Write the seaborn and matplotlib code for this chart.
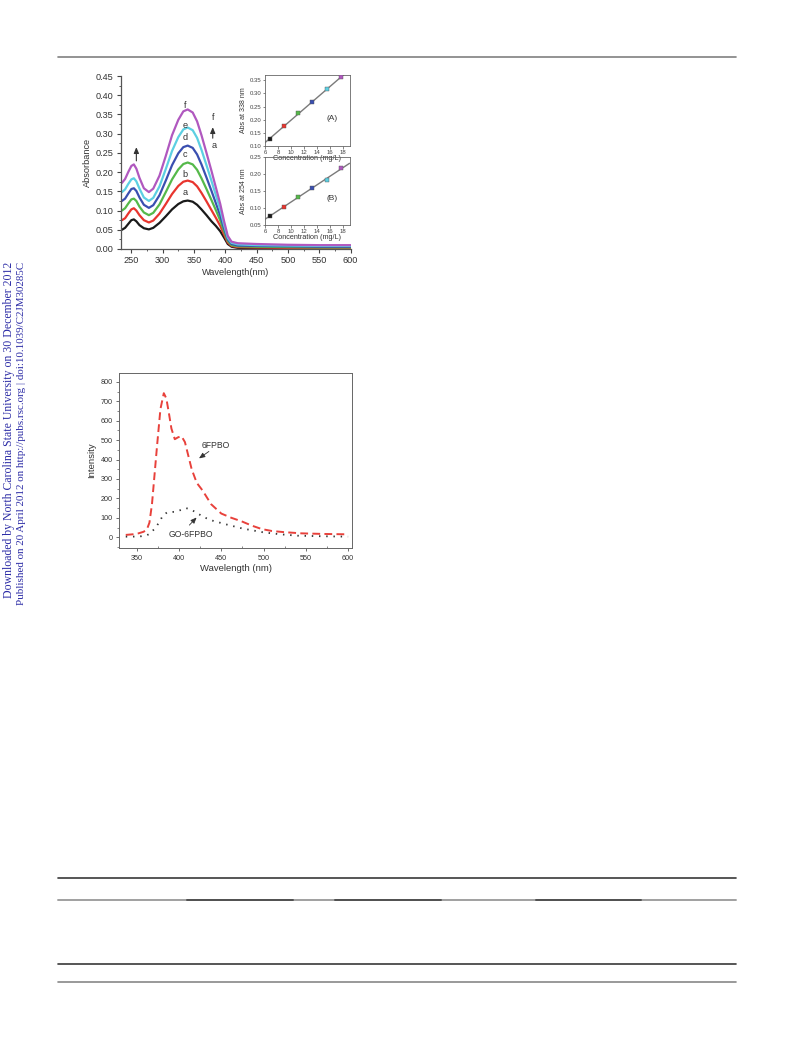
import numpy as np
import pandas as pd
import matplotlib
matplotlib.use("Agg")
import matplotlib.pyplot as plt
import seaborn as sns
from matplotlib.ticker import MultipleLocator

sns.set_style("ticks")
plt.rcParams['font.family'] = ['Liberation Sans', 'DejaVu Sans']

# ---------------- data: UV-vis absorbance spectra ----------------
wl = [235, 240, 245, 250, 254, 258, 263, 270, 278, 285, 295, 305, 315, 325, 333,
      340, 348, 355, 362, 370, 378, 385, 392, 398, 404, 410, 420, 450, 500, 550, 600]
abs_a = [0.050, 0.055, 0.065, 0.075, 0.077, 0.072, 0.062, 0.054, 0.051, 0.055, 0.068, 0.085, 0.103, 0.117, 0.124,
         0.126, 0.123, 0.115, 0.103, 0.088, 0.072, 0.060, 0.046, 0.030, 0.013, 0.006, 0.003, 0.002, 0.001, 0.001, 0.001]
abs_b = [0.075, 0.080, 0.092, 0.103, 0.106, 0.100, 0.088, 0.075, 0.069, 0.074, 0.092, 0.117, 0.143, 0.164, 0.175,
         0.178, 0.174, 0.163, 0.146, 0.124, 0.101, 0.081, 0.060, 0.038, 0.017, 0.008, 0.005, 0.004, 0.003, 0.003, 0.002]
abs_c = [0.100, 0.106, 0.118, 0.129, 0.131, 0.125, 0.110, 0.095, 0.088, 0.094, 0.116, 0.148, 0.181, 0.207, 0.221,
         0.225, 0.220, 0.206, 0.184, 0.156, 0.127, 0.101, 0.074, 0.046, 0.021, 0.010, 0.007, 0.006, 0.005, 0.004, 0.004]
abs_d = [0.125, 0.131, 0.144, 0.156, 0.158, 0.151, 0.134, 0.115, 0.107, 0.114, 0.140, 0.178, 0.218, 0.249, 0.265,
         0.269, 0.263, 0.246, 0.220, 0.186, 0.151, 0.119, 0.087, 0.054, 0.025, 0.013, 0.009, 0.008, 0.007, 0.006, 0.006]
abs_e = [0.148, 0.155, 0.169, 0.181, 0.184, 0.176, 0.157, 0.134, 0.125, 0.133, 0.163, 0.208, 0.255, 0.291, 0.311,
         0.316, 0.309, 0.289, 0.258, 0.218, 0.177, 0.140, 0.102, 0.063, 0.029, 0.016, 0.012, 0.010, 0.009, 0.008, 0.008]
abs_f = [0.172, 0.182, 0.200, 0.216, 0.220, 0.209, 0.185, 0.158, 0.148, 0.157, 0.191, 0.242, 0.296, 0.336, 0.358,
         0.363, 0.355, 0.332, 0.296, 0.250, 0.203, 0.160, 0.117, 0.073, 0.034, 0.019, 0.015, 0.013, 0.011, 0.010, 0.010]
curve_names = ['a', 'b', 'c', 'd', 'e', 'f']
curve_colors = ['#1a1a1a', '#e8352e', '#55b94a', '#3a4fb0', '#5ccfe2', '#b058bf']
label_y = [0.147, 0.194, 0.245, 0.291, 0.322, 0.373]

# insets: calibration
conc = [6.7, 8.9, 11.1, 13.3, 15.5, 17.7]
abs338 = [0.125, 0.177, 0.224, 0.268, 0.315, 0.362]
abs254 = [0.077, 0.104, 0.131, 0.158, 0.183, 0.219]

# ---------------- data: fluorescence ----------------
fl_wl1 = [337, 345, 352, 358, 362, 365, 368, 371, 374, 378, 382, 385, 388, 391, 395, 399, 403,
          407, 411, 415, 421, 428, 438, 450, 462, 474, 486, 498, 510, 525, 545, 570, 600]
fl_6fpbo = [12, 15, 20, 28, 40, 75, 170, 320, 470, 660, 742, 715, 640, 560, 505, 515, 520,
            490, 420, 350, 280, 240, 170, 122, 100, 82, 60, 42, 32, 26, 20, 17, 15]
fl_wl2 = [337, 345, 355, 362, 366, 372, 377, 381, 386, 392, 397, 403, 408, 413, 418, 423, 430,
          440, 455, 475, 500, 520, 540, 570, 600]
fl_go = [3, 3, 5, 10, 20, 48, 80, 113, 128, 130, 132, 142, 150, 145, 133, 120, 102,
         85, 67, 45, 25, 15, 8, 5, 3]

# ---------------- figure ----------------
W, H = 793, 1039
fig = plt.figure(figsize=(W / 100, H / 100), dpi=100)

def px_axes(l, t, r, b):
    return fig.add_axes([l / W, 1 - b / H, (r - l) / W, (b - t) / H])

# page decoration lines
def hline(y, x0, x1, color, lw):
    fig.add_artist(plt.Line2D([x0 / W, x1 / W], [1 - y / H, 1 - y / H], color=color, lw=lw,
                              transform=fig.transFigure))

hline(57, 58, 736, '#808080', 1.2)
hline(877.5, 58, 736, '#383838', 1.2)
hline(900, 58, 736, '#a0a0a0', 1.4)
for x0, x1 in [(187, 293), (335, 441), (536, 641)]:
    hline(900, x0, x1, '#505050', 1.4)
hline(963.5, 58, 736, '#383838', 1.2)
hline(981.5, 58, 736, '#888888', 1.2)

# side watermark
side_col = '#2c2ca6'
fig.text(9.5 / W, 1 - 262 / H, 'Downloaded by North Carolina State University on 30 December 2012',
         rotation=90, ha='center', va='top', color=side_col, fontsize=8.45, family='Liberation Serif')
fig.text(22 / W, 1 - 262 / H, 'Published on 20 April 2012 on http://pubs.rsc.org | doi:10.1039/C2JM30285C',
         rotation=90, ha='center', va='top', color=side_col, fontsize=7.95, family='Liberation Serif')

# ---------------- top main chart ----------------
ax = px_axes(120.7, 76, 350.5, 249)
df_abs = pd.DataFrame({'wl': wl, 'a': abs_a, 'b': abs_b, 'c': abs_c, 'd': abs_d, 'e': abs_e, 'f': abs_f})
long = df_abs.melt(id_vars='wl', var_name='curve', value_name='A')
sns.lineplot(data=long, x='wl', y='A', hue='curve', hue_order=curve_names,
             palette=dict(zip(curve_names, curve_colors)), linewidth=1.6, legend=False, ax=ax)
ax.set_xlim(233, 600)
ax.set_ylim(0, 0.45)
ax.xaxis.set_major_locator(MultipleLocator(50))
ax.xaxis.set_minor_locator(MultipleLocator(25))
ax.yaxis.set_major_locator(MultipleLocator(0.05))
ax.yaxis.set_minor_locator(MultipleLocator(0.025))
ax.yaxis.set_major_formatter(matplotlib.ticker.FormatStrFormatter('%.2f'))
ax.tick_params(which='major', length=3, width=0.8, labelsize=6.6, pad=2, color='#444444', labelcolor='#333333')
ax.tick_params(which='minor', length=1.6, width=0.6, color='#444444')
sns.despine(ax=ax)
for s in ['left', 'bottom']:
    ax.spines[s].set_linewidth(0.9)
    ax.spines[s].set_color('#555555')
ax.set_xlabel('Wavelength(nm)', fontsize=6.6, labelpad=2, color='#333333')
ax.set_ylabel('Absorbance', fontsize=6.6, labelpad=3, color='#333333')
for n, yv in zip(curve_names, label_y):
    ax.text(336, yv, n, fontsize=6.6, ha='center', va='center', color='#333333')
ax.annotate('', xy=(258, 0.272), xytext=(258, 0.222),
            arrowprops=dict(arrowstyle='-|>,head_length=0.35,head_width=0.15', color='#333333', lw=0.8))
ax.annotate('', xy=(380, 0.324), xytext=(380, 0.281),
            arrowprops=dict(arrowstyle='-|>,head_length=0.35,head_width=0.15', color='#333333', lw=0.8))
ax.text(381, 0.343, 'f', fontsize=6.6, ha='center', va='center', color='#333333')
ax.text(383, 0.268, 'a', fontsize=6.6, ha='center', va='center', color='#333333')

# insets
def inset(l, t, r, b, yvals, ylim, ylabel, tag):
    axi = px_axes(l, t, r, b)
    axi.set_xlim(6, 19)
    axi.set_ylim(*ylim)
    dfi = pd.DataFrame({'c': conc, 'A': yvals, 'k': curve_names})
    sns.regplot(data=dfi, x='c', y='A', scatter=False, ci=None, truncate=False,
                line_kws=dict(color='#7a7a7a', lw=1.0), ax=axi)
    sns.scatterplot(data=dfi, x='c', y='A', hue='k', palette=dict(zip(curve_names, curve_colors)),
                    marker='s', s=8, edgecolor='#555555', linewidth=0.3, legend=False, ax=axi, zorder=3)
    axi.set_xlim(6, 19)
    axi.set_ylim(*ylim)
    axi.xaxis.set_major_locator(MultipleLocator(2))
    axi.yaxis.set_major_locator(MultipleLocator(0.05))
    axi.yaxis.set_major_formatter(matplotlib.ticker.FormatStrFormatter('%.2f'))
    axi.tick_params(length=1.8, width=0.5, labelsize=4.3, pad=1, color='#555555', labelcolor='#444444')
    for s in axi.spines.values():
        s.set_linewidth(0.6)
        s.set_color('#666666')
    axi.set_xlabel('Concentration (mg/L)', fontsize=5.2, labelpad=0, color='#333333')
    axi.set_ylabel(ylabel, fontsize=5.0, labelpad=1.5, color='#333333')
    axi.text(16.3, ylim[0] + 0.39 * (ylim[1] - ylim[0]), tag, fontsize=6, ha='center', va='center', color='#333333')
    axi.patch.set_alpha(0)
    return axi

inset(265, 75, 349.5, 146, abs338, (0.10, 0.37), 'Abs at 338 nm', '(A)')
inset(265, 157, 349.5, 225, abs254, (0.05, 0.25), 'Abs at 254 nm', '(B)')

# ---------------- bottom chart: fluorescence ----------------
ax2 = px_axes(119, 373, 352.3, 548.3)
d1 = pd.DataFrame({'wl': fl_wl1, 'I': fl_6fpbo})
d2 = pd.DataFrame({'wl': fl_wl2, 'I': fl_go})
sns.lineplot(data=d1, x='wl', y='I', color='#e8413b', linewidth=1.4, ax=ax2)
ax2.lines[-1].set_linestyle((0, (4, 2.2)))
sns.lineplot(data=d2, x='wl', y='I', color='#333333', linewidth=1.3, ax=ax2)
ax2.lines[-1].set_linestyle((0, (0.8, 3.2)))
ax2.set_xlim(329, 605)
ax2.set_ylim(-57, 846)
ax2.xaxis.set_major_locator(MultipleLocator(50))
ax2.xaxis.set_minor_locator(MultipleLocator(25))
ax2.yaxis.set_major_locator(MultipleLocator(100))
ax2.yaxis.set_minor_locator(MultipleLocator(50))
ax2.tick_params(which='major', length=2.5, width=0.6, labelsize=5.2, pad=2, color='#555555', labelcolor='#333333')
ax2.tick_params(which='minor', length=1.4, width=0.5, color='#555555')
ax2.tick_params(axis='x', which='minor', direction='in')
for s in ax2.spines.values():
    s.set_linewidth(0.7)
    s.set_color('#666666')
ax2.set_xlabel('Wavelength (nm)', fontsize=6.8, labelpad=2, color='#333333')
ax2.set_ylabel('Intensity', fontsize=6.8, labelpad=3, color='#333333')
ax2.text(443, 471, '6FPBO', fontsize=6.2, ha='center', va='center', color='#333333')
ax2.annotate('', xy=(421, 398), xytext=(438, 450),
             arrowprops=dict(arrowstyle='-|>,head_length=0.35,head_width=0.15', color='#333333', lw=0.6))
ax2.text(414, 16, 'GO-6FPBO', fontsize=6.2, ha='center', va='center', color='#333333')
ax2.annotate('', xy=(423, 112), xytext=(410, 52),
             arrowprops=dict(arrowstyle='-|>,head_length=0.35,head_width=0.15', color='#333333', lw=0.6))

fig.savefig('out.png', dpi=100)
